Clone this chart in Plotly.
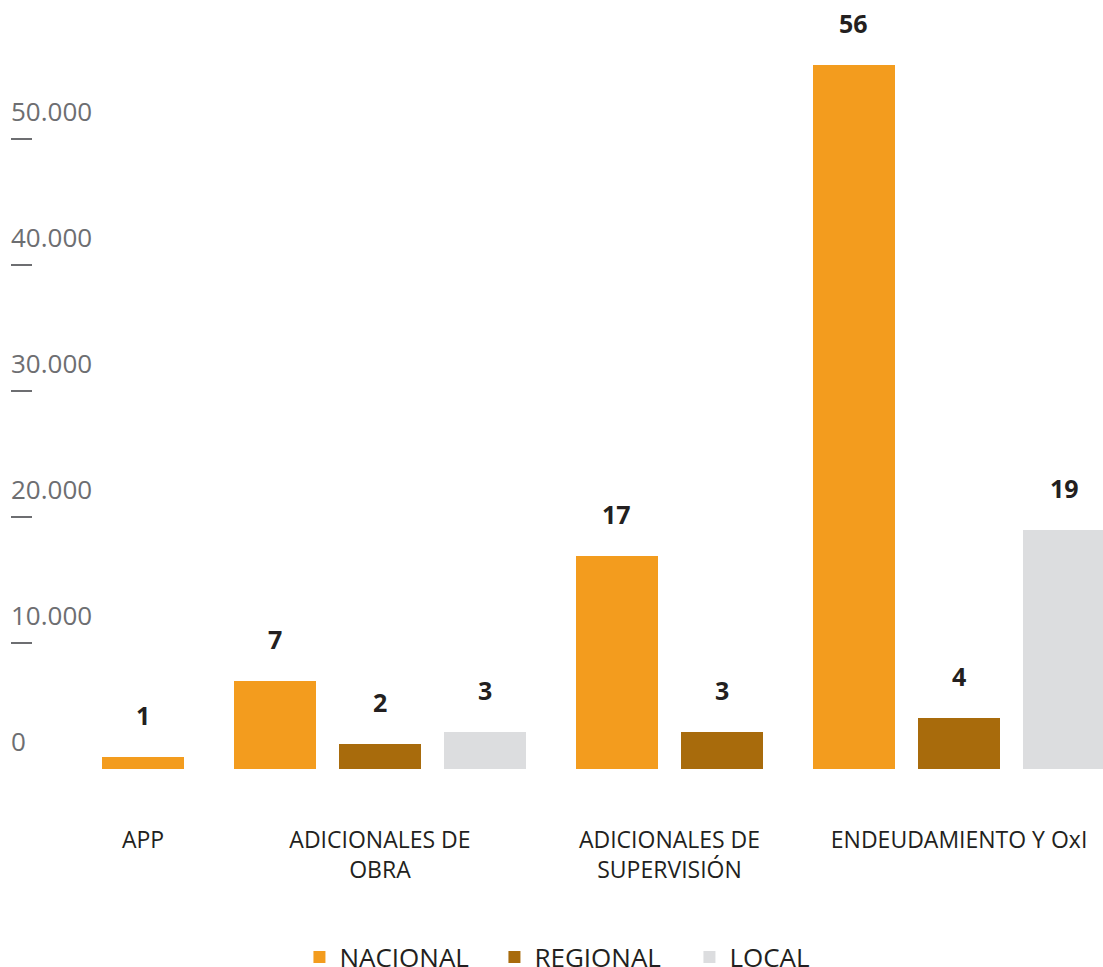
import plotly.graph_objects as go

# ---------------- data ----------------
categories = ["APP", "ADICIONALES DE<br>OBRA", "ADICIONALES DE<br>SUPERVISIÓN", "ENDEUDAMIENTO Y OxI"]
series_names = ["NACIONAL", "REGIONAL", "LOCAL"]
nacional = [950, 6980, 16900, 55870]
regional = [None, 1980, 2940, 4050]
local = [None, 2940, None, 18970]
nacional_labels = ["1", "7", "17", "56"]
regional_labels = [None, "2", "3", "4"]
local_labels = [None, "3", None, "19"]
y_ticks = [0, 10000, 20000, 30000, 40000, 50000]
y_tick_text = ["0", "10.000", "20.000", "30.000", "40.000", "50.000"]

# ---------------- style ----------------
colors = ["#F39C1E", "#A86B0C", "#DCDDDF"]
DARK = "#231F20"
GREY = "#6D6E71"
FONT = "Open Sans"
GROUP_GAP = 0.25
BAR_WIDTH = 0.78

series_values = [nacional, regional, local]
series_labels = [nacional_labels, regional_labels, local_labels]

# slot positions: bars only take a slot when they exist
positions = [[None] * len(categories) for _ in series_values]
group_centers = []
cursor = 0.0
for g in range(len(categories)):
    slots = []
    for s, vals in enumerate(series_values):
        if vals[g] is not None:
            positions[s][g] = cursor
            slots.append(cursor)
            cursor += 1
    group_centers.append(sum(slots) / len(slots))
    cursor += GROUP_GAP

fig = go.Figure()
annotations = []
for s, name in enumerate(series_names):
    xs, ys = [], []
    for g in range(len(categories)):
        v = series_values[s][g]
        if v is None:
            continue
        xs.append(positions[s][g])
        ys.append(v)
        annotations.append(dict(
            x=positions[s][g], y=v, xref="x", yref="y",
            text="<b>%s</b>" % series_labels[s][g], showarrow=False,
            yanchor="middle", yshift=42,
            font=dict(family=FONT, size=25, color=DARK),
        ))
    fig.add_trace(go.Bar(
        x=xs, y=ys, name=name, width=BAR_WIDTH,
        marker=dict(color=colors[s], line=dict(width=0)),
    ))

for v, t in zip(y_ticks, y_tick_text):
    annotations.append(dict(
        x=0, y=v, xref="paper", yref="y", text=t, showarrow=False,
        xanchor="left", yanchor="middle", yshift=28, xshift=-2,
        font=dict(family=FONT, size=26, color=GREY),
    ))

fig.update_layout(
    template="none",
    width=1103, height=967,
    margin=dict(l=11, r=0, t=0, b=198, autoexpand=False),
    paper_bgcolor="white", plot_bgcolor="white",
    bargap=0, barmode="overlay",
    showlegend=True,
    legend=dict(
        orientation="h", x=0.532, xanchor="center", y=-0.2445, yanchor="middle",
        font=dict(family=FONT, size=26, color=DARK),
        bgcolor="rgba(0,0,0,0)",
        entrywidth=150, entrywidthmode="pixels",
    ),
    annotations=annotations,
    xaxis=dict(
        range=[-1.254, 9.117],
        tickvals=group_centers, ticktext=categories,
        ticks="", showline=False, showgrid=False, zeroline=False,
        ticklabelstandoff=55,
        tickfont=dict(family=FONT, size=23, color=DARK),
    ),
    yaxis=dict(
        range=[0, 61032],
        tickvals=y_ticks, showticklabels=False,
        ticks="inside", ticklen=21, tickwidth=1.5, tickcolor=GREY,
        showline=False, showgrid=False, zeroline=False,
    ),
)

fig.write_html(
    "out.html",
    config={"displayModeBar": False},
    post_script="document.body.style.margin='0';",
)
